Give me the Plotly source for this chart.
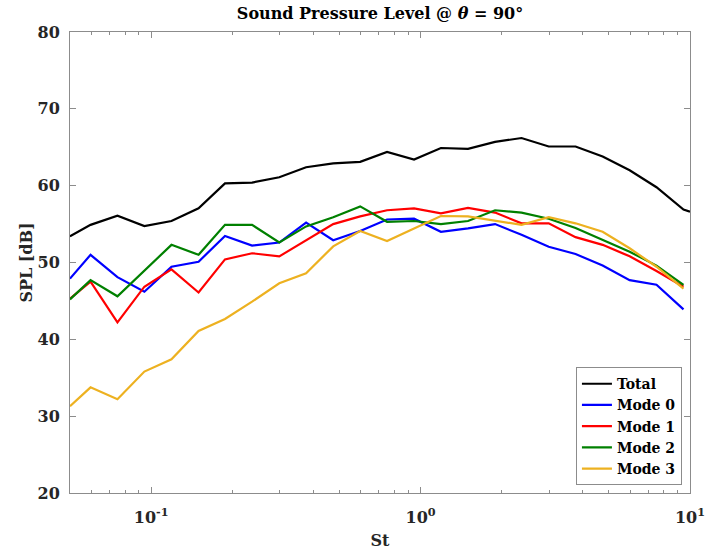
import plotly.graph_objects as go

# Strouhal number band centres
st = [0.05, 0.0596, 0.075, 0.0944, 0.119, 0.150, 0.188, 0.237, 0.299, 0.376,
      0.474, 0.597, 0.751, 0.946, 1.19, 1.50, 1.89, 2.37, 2.99, 3.76,
      4.74, 5.97, 7.51, 9.46]
st_total = st + [10.0]

# Sound pressure level [dB] per band
spl_total = [53.4, 54.9, 56.1, 54.75, 55.4, 57.05, 60.3, 60.4, 61.1, 62.4,
             62.9, 63.1, 64.4, 63.4, 64.9, 64.8, 65.7, 66.2, 65.1, 65.1,
             63.8, 62.0, 59.8, 56.9, 56.6]
spl_mode0 = [47.9, 51.0, 48.1, 46.2, 49.45, 50.1, 53.45, 52.2, 52.6, 55.2,
             52.9, 54.1, 55.6, 55.7, 54.0, 54.45, 55.0, 53.6, 52.05, 51.1,
             49.6, 47.7, 47.1, 43.9]
spl_mode1 = [45.3, 47.5, 42.2, 46.85, 49.1, 46.1, 50.4, 51.2, 50.8, 52.9,
             55.0, 56.0, 56.8, 57.05, 56.4, 57.1, 56.5, 55.1, 55.1, 53.3,
             52.3, 50.8, 48.9, 46.85]
spl_mode2 = [45.2, 47.7, 45.6, 49.0, 52.3, 51.0, 54.9, 54.9, 52.6, 54.7,
             55.9, 57.3, 55.3, 55.4, 55.0, 55.4, 56.8, 56.5, 55.7, 54.5,
             52.9, 51.4, 49.6, 47.1]
spl_mode3 = [31.3, 33.75, 32.2, 35.8, 37.4, 41.1, 42.65, 44.9, 47.3, 48.6,
             52.1, 54.1, 52.8, 54.4, 56.05, 56.0, 55.4, 54.9, 55.9, 55.1,
             54.0, 51.85, 49.45, 46.6]

series = [
    ("Total", st_total, spl_total, "#000000"),
    ("Mode 0", st, spl_mode0, "#0000FF"),
    ("Mode 1", st, spl_mode1, "#FF0000"),
    ("Mode 2", st, spl_mode2, "#008000"),
    ("Mode 3", st, spl_mode3, "#EDB120"),
]

x_major = [0.1, 1, 10]
x_major_text = ["10<sup>-1</sup>", "10<sup>0</sup>", "10<sup>1</sup>"]
x_minor = [0.05, 0.06, 0.07, 0.08, 0.09, 0.2, 0.3, 0.4, 0.5, 0.6, 0.7, 0.8, 0.9,
           2, 3, 4, 5, 6, 7, 8, 9]

FONT = "DejaVu Serif"
TXT = "#262626"
AX = "#8c8c8c"

fig = go.Figure()
for name, xs, ys, color in series:
    fig.add_trace(go.Scatter(x=xs, y=ys, mode="lines", name=name,
                             line=dict(color=color, width=2.2)))

fig.update_layout(
    width=714, height=550,
    margin=dict(l=70, r=24, t=32, b=57),
    paper_bgcolor="white", plot_bgcolor="white",
    font=dict(family=FONT, size=16, color=TXT, weight="bold"),
    title=dict(text="Sound Pressure Level @ <i>θ</i> = 90°",
               x=0.5, xref="paper", xanchor="center",
               y=0.975, yref="container", yanchor="middle",
               font=dict(family=FONT, size=16, color="#000000", weight="bold")),
    showlegend=True,
    legend=dict(x=0.987, y=0.017, xanchor="right", yanchor="bottom",
                bgcolor="white", bordercolor=AX, borderwidth=1,
                font=dict(family=FONT, size=14, color="#000000", weight="bold"),
                tracegroupgap=0, itemwidth=30),
)

fig.update_xaxes(
    type="log", range=[-1.30103, 1], automargin=False,
    tickmode="array", tickvals=x_major, ticktext=x_major_text,
    ticks="inside", ticklen=6, tickcolor=AX, ticklabelstandoff=10,
    minor=dict(ticks="inside", ticklen=3, tickcolor=AX, tickvals=x_minor),
    showline=True, linecolor=AX, linewidth=1, mirror="ticks",
    showgrid=False, zeroline=False,
    title=dict(text="St", standoff=8,
               font=dict(family=FONT, size=16, color=TXT, weight="bold")),
)
fig.update_yaxes(
    range=[20, 80], automargin=False, tickmode="linear", tick0=20, dtick=10,
    ticks="inside", ticklen=6, tickcolor=AX, ticklabelstandoff=6,
    showline=True, linecolor=AX, linewidth=1, mirror="ticks",
    showgrid=False, zeroline=False,
    title=dict(text="SPL [dB]", standoff=0,
               font=dict(family=FONT, size=16, color=TXT, weight="bold")),
)

fig.write_html("out.html")
